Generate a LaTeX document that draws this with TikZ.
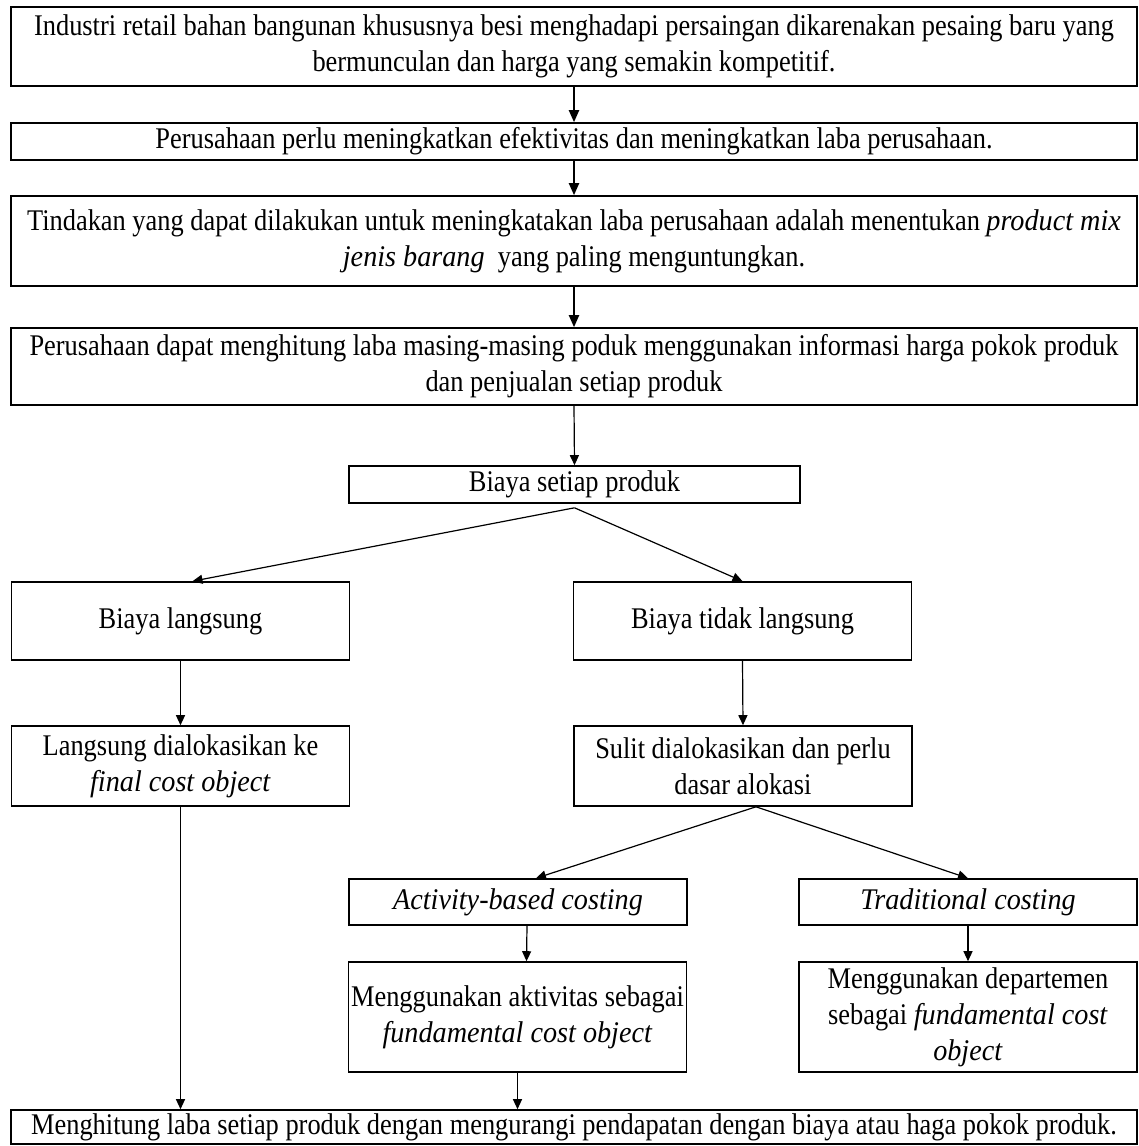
\documentclass[tikz,border=0pt]{standalone}
\usepackage{fontspec}
\setmainfont{Liberation Serif}[FakeStretch=0.88, ItalicFeatures={FakeStretch=0.94}]
\usetikzlibrary{arrows.meta}
\begin{document}
\begin{tikzpicture}[x=0.5pt, y=-0.5pt,
  font=\fontsize{15}{18}\selectfont,
  box/.style={draw, line width=0.8pt, align=center, inner sep=0pt},
  wide/.style={box, minimum width=563pt},
  half/.style={box, minimum width=169pt},
  flow/.style={-{Triangle[length=6pt,width=5pt]}, line width=1pt},
  link/.style={-{Triangle[length=5pt,width=4.5pt]}, line width=0.6pt}]
  \useasboundingbox (0,0) rectangle (1139,1146);
  % Upper chain
  \node[wide, minimum height=39.5pt] (masalah) at (574,46.5)
    {Industri retail bahan bangunan khususnya besi menghadapi persaingan dikarenakan pesaing baru yang\\bermunculan dan harga yang semakin kompetitif.};
  \node[wide, minimum height=18.5pt] (tujuan) at (574,141.5)
    {Perusahaan perlu meningkatkan efektivitas dan meningkatkan laba perusahaan.};
  \node[wide, minimum height=45pt] (tindakan) at (574,241)
    {Tindakan yang dapat dilakukan untuk meningkatakan laba perusahaan adalah menentukan \textit{product mix}\\\textit{jenis barang}\ \ yang paling menguntungkan.};
  \node[wide, minimum height=38.5pt] (hitung) at (574,366.5)
    {Perusahaan dapat menghitung laba masing-masing poduk menggunakan informasi harga pokok produk\\dan penjualan setiap produk};
  \draw[flow] (masalah.south) -- (tujuan.north);
  \draw[flow] (tujuan.south) -- (tindakan.north);
  \draw[flow] (tindakan.south) -- (hitung.north);
  % Cost split
  \node[box, minimum width=225.5pt, minimum height=18.5pt] (biaya) at (574.5,484.5) {Biaya setiap produk};
  \node[half, minimum height=39pt] (langsung) at (180.5,621) {Biaya langsung};
  \node[half, minimum height=39pt] (taklangsung) at (742.5,621) {Biaya tidak langsung};
  \draw[link] (hitung.south) -- (biaya.north);
  \draw[link] ([yshift=-2pt]biaya.south) -- ([xshift=6pt]langsung.north);
  \draw[link] ([yshift=-2pt]biaya.south) -- (taklangsung.north);
  % Allocation
  \node[half, minimum height=40pt] (alokasi) at (180.5,766)
    {Langsung dialokasikan ke\\\textit{final cost object}};
  \node[half, minimum height=40pt] (dasar) at (743,766)
    {Sulit dialokasikan dan perlu\\dasar alokasi};
  \draw[link] (langsung.south) -- (alokasi.north);
  \draw[link] (taklangsung.south) -- (dasar.north);
  % Costing systems
  \node[half, minimum height=23pt] (abc) at (518,902) {\textit{Activity-based costing}};
  \node[half, minimum height=23pt] (trad) at (968,902) {\textit{Traditional costing}};
  \draw[link] ([xshift=6.5pt]dasar.south) -- ([xshift=9pt]abc.north);
  \draw[link] ([xshift=6.5pt]dasar.south) -- (trad.north);
  \node[half, minimum height=55pt] (aktivitas) at (517.5,1017)
    {Menggunakan aktivitas sebagai\\\textit{fundamental cost object}};
  \node[half, minimum height=55pt] (departemen) at (968,1017)
    {Menggunakan departemen\\sebagai \textit{fundamental cost}\\\textit{object}};
  \draw[link] ([xshift=4.5pt]abc.south) -- ([xshift=4.5pt]aktivitas.north);
  \draw[link] (trad.south) -- (departemen.north);
  % Result
  \node[wide, minimum height=17pt] (laba) at (574,1127)
    {Menghitung laba setiap produk dengan mengurangi pendapatan dengan biaya atau haga pokok produk.};
  \draw[link] (alokasi.south) -- (laba.north -| alokasi.south);
  \draw[link] (aktivitas.south) -- (laba.north -| aktivitas.south);
\end{tikzpicture}
\end{document}
